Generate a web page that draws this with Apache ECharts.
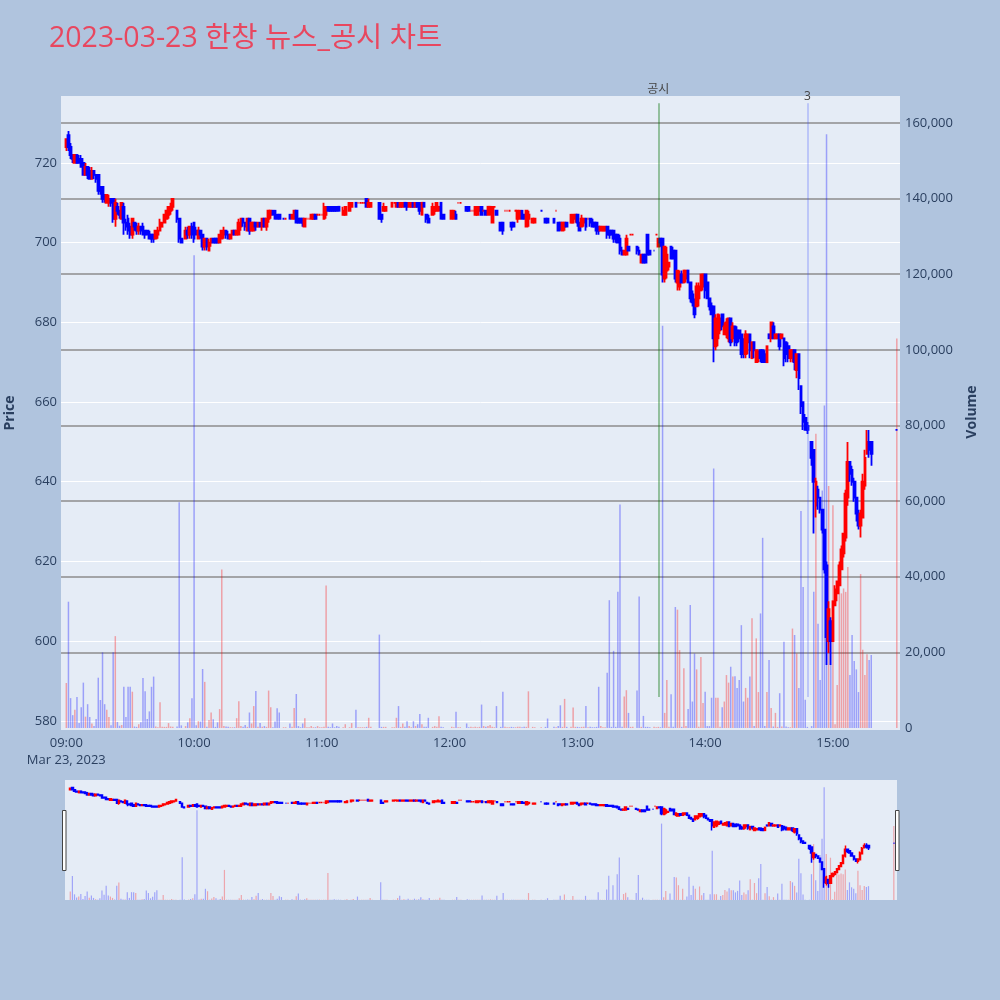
<!DOCTYPE html>
<html><head><meta charset="utf-8">
<script src="https://cdn.jsdelivr.net/npm/echarts@6/dist/echarts.min.js"></script>
<style>html,body{margin:0;padding:0;background:#b0c4de;}#c{width:1000px;height:1000px;}</style>
</head><body><div id="c"></div>
<script>
// minute index m = minutes after 09:00 (0..390); null = no trade
const openP = [
724,727,724,722,720,722,721,721,720,717, 719,718,716,718,717,717,714,714,712,710,
710,711,711,706,709,708,706,709,705,706, 704,702,705,704,703,704,704,703,703,702,
702,702,701,702,703,704,705,706,707,708, 709,null,708,706,701,null,701,703,702,704,
705,703,701,703,702,699,701,698,700,701, 701,701,700,701,702,703,702,701,702,703,
702,702,704,706,705,703,706,703,703,705, 704,705,704,706,704,706,707,708,708,707,
707,null,706,706,null,707,706,706,708,706, 706,706,704,706,706,706,706,707,707,707,
707,706,707,709,709,709,709,709,709,null, 707,707,null,708,709,null,710,710,710,710,
710,711,709,709,null,null,null,710,707,708, 708,null,null,709,710,709,710,709,709,710,
710,709,709,710,709,710,710,707,710,707, 706,null,707,708,708,708,710,707,null,null,
null,706,706,707,710,710,null,null,709,709, 708,708,707,707,708,709,708,708,707,707,
705,709,708,null,705,705,708,708,708,705, 705,708,706,706,708,707,704,706,null,705,
705,null,null,708,null,706,706,null,null,706, 708,705,705,703,704,705,null,705,705,706,
707,705,704,705,706,706,706,705,705,705, 704,703,703,703,704,703,703,703,702,702,
701,698,697,697,699,702,702,null,699,698, 695,697,697,702,698,null,698,702,699,701,
701,691,693,694,699,698,698,690,689,692, 690,691,693,690,687,685,684,686,688,689,
692,690,686,684,684,674,676,678,682,677, 677,676,681,676,679,678,678,677,674,672,
675,677,671,675,670,671,673,673,672,670, 677,676,679,676,676,677,676,676,675,674,
671,671,673,668,672,664,660,656,654,null, 650,648,634,638,636,633,628,619,600,605,
600,609,612,614,618,622,626,636,645,643, 640,636,632,629,631,639,647,650,650,null,
null,null,null,null,null,null,null,null,null,null, 653];
const closeP = [
726,724,722,721,722,720,720,719,717,719, 717,716,718,717,716,713,713,711,711,712,
711,710,706,710,708,707,710,705,704,703, 702,706,704,703,704,703,702,702,702,701,
701,701,703,703,705,705,707,708,709,709, 711,null,706,701,700,null,703,702,704,702,
701,702,703,702,699,701,699,700,701,700, 700,700,702,703,703,702,701,702,703,702,
703,705,706,705,704,706,703,705,705,704, 705,704,706,704,706,708,708,707,706,706,
706,null,706,706,null,706,707,708,705,705, 705,705,706,706,706,707,707,706,707,707,
707,709,709,708,708,708,708,708,708,null, 708,709,null,710,710,null,709,710,710,710,
710,709,710,710,null,null,null,706,706,709, 709,null,null,710,710,710,709,710,710,709,
709,710,710,709,710,709,708,710,709,706, 705,null,709,709,710,709,706,706,null,null,
null,708,708,706,710,710,null,null,708,708, 708,708,709,709,709,707,708,707,709,709,
709,709,707,null,703,703,708,708,708,704, 704,708,708,708,706,706,708,707,null,706,
706,null,null,708,null,705,705,null,null,705, 708,703,704,705,705,704,null,707,707,707,
705,703,706,706,704,706,705,704,704,703, 703,704,704,704,702,702,702,701,701,700,
698,697,698,701,698,702,702,null,698,697, 697,695,695,697,697,null,698,702,701,700,
692,699,697,695,696,696,691,693,692,690, 693,693,690,686,685,682,689,689,692,692,
688,686,684,682,676,681,682,681,679,679, 680,681,675,679,675,675,676,672,672,677,
677,673,675,673,673,672,671,670,670,674, 676,680,676,677,677,674,677,671,672,671,
673,673,670,672,666,659,655,653,653,null, 646,640,640,636,633,628,618,601,608,600,
610,613,615,619,623,627,637,645,642,640, 636,632,629,632,640,646,650,648,647,null,
null,null,null,null,null,null,null,null,null,null, 653];
const lowP = [
723,723,721,720,720,720,720,719,717,717, 716,716,716,716,715,712,712,710,710,710,
709,709,705,704,707,706,706,702,703,702, 701,701,703,702,702,702,702,701,702,701,
700,700,701,701,703,704,705,706,706,707, 708,null,705,700,700,null,701,701,701,701,
700,702,701,701,698,698,698,698,699,700, 700,700,700,701,701,701,701,701,702,702,
702,702,703,704,703,703,702,703,703,703, 704,704,703,704,703,705,706,707,706,706,
706,null,706,706,null,706,706,706,705,705, 705,704,704,706,706,706,706,706,707,707,
707,706,706,708,708,708,708,708,708,null, 707,707,null,708,709,null,709,710,710,710,
710,709,709,709,null,null,null,706,705,708, 708,null,null,709,710,709,709,709,709,709,
708,709,709,709,709,709,707,707,709,705, 705,null,707,707,708,708,706,706,null,null,
null,706,706,706,710,710,null,null,708,708, 708,708,707,707,708,707,708,707,707,707,
705,709,707,null,703,702,708,708,708,703, 704,708,705,706,706,706,704,704,null,705,
705,null,null,708,null,705,705,null,null,705, 708,703,703,703,703,704,null,705,705,705,
704,703,704,704,703,706,704,704,704,702, 702,703,703,703,701,701,702,700,700,700,
697,697,697,697,698,702,702,null,697,697, 695,695,695,697,697,null,698,702,699,699,
690,690,691,693,696,696,690,688,688,690, 690,690,690,685,684,681,684,684,688,688,
686,686,683,682,670,673,674,677,678,677, 676,675,674,675,674,674,675,671,671,671,
672,671,671,671,670,670,670,670,670,670, 676,675,676,676,676,673,676,669,670,670,
670,670,668,666,663,657,653,653,652,null, 644,627,631,633,632,627,617,594,597,594,
600,609,610,614,618,621,625,634,640,639, 635,630,628,626,631,638,647,646,644,null,
null,null,null,null,null,null,null,null,null,null, 653];
const highP = [
726,728,725,722,722,722,722,722,720,720, 719,719,719,718,717,717,714,714,712,712,
712,711,711,711,710,708,710,710,706,707, 705,706,705,705,705,704,705,703,703,703,
702,702,703,704,706,705,707,708,709,710, 711,null,708,706,701,null,704,704,704,705,
705,704,704,703,702,701,701,701,701,701, 701,701,702,703,704,703,703,702,703,703,
703,706,706,706,705,706,706,705,705,705, 705,705,706,706,706,708,708,708,708,707,
707,null,706,706,null,707,707,708,708,706, 706,706,706,706,706,707,707,707,707,707,
707,710,709,709,709,709,709,709,709,null, 709,709,null,710,710,null,710,710,710,710,
710,711,711,710,null,null,null,710,707,710, 709,null,null,710,710,710,710,710,710,710,
710,710,710,710,710,710,710,710,710,707, 707,null,710,709,710,709,710,707,null,null,
null,708,708,708,710,710,null,null,709,709, 708,708,709,709,709,709,708,708,709,709,
709,709,708,null,705,705,708,708,708,705, 705,708,708,708,708,707,708,708,null,706,
706,null,null,708,null,706,706,null,null,706, 708,705,705,705,705,705,null,707,707,707,
707,705,707,706,706,706,706,706,705,705, 704,704,704,704,704,703,703,703,702,702,
702,699,698,702,699,702,702,null,699,699, 697,697,697,702,698,null,698,702,701,701,
701,699,699,695,699,699,698,693,693,693, 693,693,693,690,688,686,690,690,692,692,
692,690,686,685,684,682,682,682,682,680, 681,681,681,680,679,679,678,677,676,678,
677,677,675,675,673,673,673,673,673,674, 677,680,680,677,677,677,677,676,675,675,
673,673,673,672,672,664,660,657,655,null, 650,648,641,639,636,633,628,620,610,606,
610,614,615,620,624,627,638,650,645,644, 641,636,633,633,642,648,653,653,650,null,
null,null,null,null,null,null,null,null,null,null, 653];
const volume = [
11900,33400,7900,3400,4800,8200,1300,5500,12000,3000, 6300,2900,1200,500,2400,13300,7400,20000,6300,4800,
2900,700,20000,24300,1600,600,800,10900,2900,10900, 10900,9600,400,300,1000,1500,13200,9700,2400,4400,
10900,13600,400,200,6800,300,300,300,1300,400, 300,null,400,59700,700,null,500,1500,2600,7900,
125000,700,1800,1700,15600,12200,300,2100,4100,2300, 300,1500,5000,41900,500,400,300,200,200,200,
2600,7100,500,300,800,300,4100,1200,5800,9800, 300,1300,300,500,300,9900,5500,200,1700,5200,
4100,null,200,200,null,1200,300,5300,9000,500, 200,1200,2600,200,200,500,200,200,500,200,
200,300,37700,300,200,1200,200,500,300,null, 200,1000,null,200,1300,null,4800,200,200,200,
200,300,2700,300,null,null,null,24700,300,300, 300,null,null,200,200,2700,5800,300,1200,300,
1800,500,200,1800,500,1000,3700,1000,300,300, 2700,null,300,500,300,3100,300,200,null,null,
null,300,200,4300,200,200,null,null,1200,200, 300,200,300,200,300,6200,500,300,500,800,
300,200,5800,null,300,9600,300,200,200,300, 200,200,300,300,200,300,300,9700,null,300,
200,null,null,200,null,300,2500,null,null,300, 200,500,6000,300,7700,300,null,300,5400,300,
300,200,300,300,5800,200,300,200,200,300, 10900,500,200,200,14600,33800,300,20400,300,36000,
59100,300,8300,10000,4000,300,300,null,9900,34800, 300,3200,300,300,200,null,300,200,300,200,
106400,4000,12700,300,8900,300,32000,31300,20600,300, 15800,500,5000,32500,7000,19700,15500,300,18800,6600,
9600,500,500,8000,68600,8000,8000,300,5500,7000, 14000,12000,16200,13600,13700,10600,12700,27200,7000,10600,
8000,13600,29000,500,23700,9500,30300,50300,500,9500, 18000,5300,400,4000,300,9200,400,22800,400,200,
200,26300,24600,19700,10600,57400,37300,7500,300,null, 500,36000,77800,27600,12700,62800,85300,157000,64000,24000,
58900,1000,11400,42600,35600,36900,36000,42600,14000,24600, 17700,15500,9500,40700,20700,14000,19500,18000,19300,null,
null,null,null,null,null,null,null,null,null,null, 103000];
const newsTimes = ['13:38', '14:48'];
const newsLabels = ['공시', '3'];
const priceRange = [577.7, 736.8];
const volumeMax = 167140;

function fmt(m) { const t = 540 + m; const h = Math.floor(t / 60), mi = t % 60; return (h < 10 ? '0' : '') + h + ':' + (mi < 10 ? '0' : '') + mi; }
const cats = []; for (let m = -2; m <= 391; m++) cats.push(fmt(m));
const candle = cats.map((_, i) => { const m = i - 2; if (m < 0 || m > 390 || openP[m] == null) return '-'; return [openP[m], closeP[m], lowP[m], highP[m]]; });
function volData(alpha) { return cats.map((_, i) => { const m = i - 2; if (m < 0 || m > 390 || volume[m] == null) return '-'; const up = closeP[m] >= openP[m]; return { value: volume[m], itemStyle: { color: up ? 'rgba(255,0,0,' + alpha + ')' : 'rgba(0,0,255,' + alpha + ')' } }; }); }

const FONT = "'Open Sans','Noto Sans CJK KR',sans-serif";
const TXT = '#2a3f5f';
const lineColors = ['rgba(0,110,0,0.45)', 'rgba(60,80,255,0.3)'];
const labelDist = [8, 1];
const candleStyle = { color: '#ff0000', color0: '#0000ff', borderColor: '#ff0000', borderColor0: '#0000ff', borderWidth: 1.8 };

const chart = echarts.init(document.getElementById('c'));
chart.setOption({
  backgroundColor: '#b0c4de',
  animation: false,
  title: { text: '2023-03-23 한창 뉴스_공시 차트', left: 49, top: 25, padding: 0, textStyle: { fontFamily: FONT, fontSize: 28.5, fontWeight: 'normal', color: '#e8475f' } },
  grid: [
    { left: 61, right: 100, top: 96, bottom: 270, show: true, backgroundColor: '#e5ecf6', borderWidth: 0, containLabel: false, outerBoundsMode: 'none' },
    { left: 61, right: 100, top: 96, bottom: 272, show: false, containLabel: false, outerBoundsMode: 'none' },
    { left: 65, right: 103, top: 780, bottom: 100, show: true, backgroundColor: '#e5ecf6', borderWidth: 0, containLabel: false, outerBoundsMode: 'none' }
  ],
  xAxis: [
    { type: 'category', gridIndex: 0, data: cats, axisLine: { show: false }, axisTick: { show: false }, splitLine: { show: false },
      axisLabel: { interval: (i, v) => (i - 2) >= 0 && (i - 2) % 60 === 0, formatter: v => v === '09:00' ? '09:00\nMar 23, 2023' : v, fontFamily: FONT, fontSize: 13, color: TXT, margin: 5, lineHeight: 17 } },
    { type: 'category', gridIndex: 1, data: cats, show: false },
    { type: 'category', gridIndex: 2, data: cats, show: false }
  ],
  yAxis: [
    { type: 'value', gridIndex: 0, min: priceRange[0], max: priceRange[1], splitNumber: 8, position: 'left',
      name: 'Price', nameLocation: 'middle', nameGap: 44, nameTextStyle: { fontFamily: FONT, fontSize: 14, fontWeight: 'bold', color: TXT },
      axisLine: { show: false }, axisTick: { show: false },
      axisLabel: { formatter: v => (Math.abs(v % 20) < 1e-6 ? String(v) : ''), fontFamily: FONT, fontSize: 13, color: TXT, margin: 4 },
      splitLine: { show: true, showMinLine: false, showMaxLine: false, lineStyle: { color: '#ffffff', width: 1 } } },
    { type: 'value', gridIndex: 1, min: 0, max: volumeMax, splitNumber: 8, position: 'right',
      name: 'Volume', nameLocation: 'middle', nameGap: 65, nameRotate: 90, nameTextStyle: { fontFamily: FONT, fontSize: 14, fontWeight: 'bold', color: TXT },
      axisLine: { show: false }, axisTick: { show: false },
      axisLabel: { formatter: v => (v % 20000 === 0 ? v.toLocaleString('en-US') : ''), fontFamily: FONT, fontSize: 13, color: TXT, margin: 5 },
      splitLine: { show: true, showMinLine: false, showMaxLine: false, lineStyle: { color: '#8c8c8c', width: 1.5 } } },
    { type: 'value', gridIndex: 2, min: priceRange[0], max: priceRange[1], show: false, splitLine: { show: false } },
    { type: 'value', gridIndex: 2, min: 0, max: volumeMax, show: false, splitLine: { show: false } }
  ],
  series: [
    { type: 'bar', xAxisIndex: 1, yAxisIndex: 1, data: volData(0.32), barWidth: 1.5, z: 1 },
    { type: 'candlestick', xAxisIndex: 0, yAxisIndex: 0, data: candle, barWidth: 2.2, itemStyle: candleStyle, z: 3,
      markLine: { silent: true, symbol: ['none', 'none'], animation: false,
        data: newsTimes.map((t, k) => [
          { coord: [t, 586], lineStyle: { color: lineColors[k], width: 1.6, type: 'solid' },
            label: { show: true, position: 'end', formatter: newsLabels[k], distance: labelDist[k], fontFamily: FONT, fontSize: 12, color: '#444' } },
          { coord: [t, 735] }
        ]) } },
    { type: 'bar', xAxisIndex: 2, yAxisIndex: 3, data: volData(0.3), barWidth: 1.2, z: 1 },
    { type: 'candlestick', xAxisIndex: 2, yAxisIndex: 2, data: candle, barWidth: 1.8, itemStyle: Object.assign({}, candleStyle, { borderWidth: 1.5 }), z: 3 }
  ],
  graphic: [
    { type: 'rect', shape: { x: 62.5, y: 810.5, width: 3.5, height: 60 }, style: { fill: '#ffffff', stroke: '#444444', lineWidth: 1 }, z: 10 },
    { type: 'rect', shape: { x: 895.5, y: 810.5, width: 3.5, height: 60 }, style: { fill: '#ffffff', stroke: '#444444', lineWidth: 1 }, z: 10 }
  ]
});
</script></body></html>
